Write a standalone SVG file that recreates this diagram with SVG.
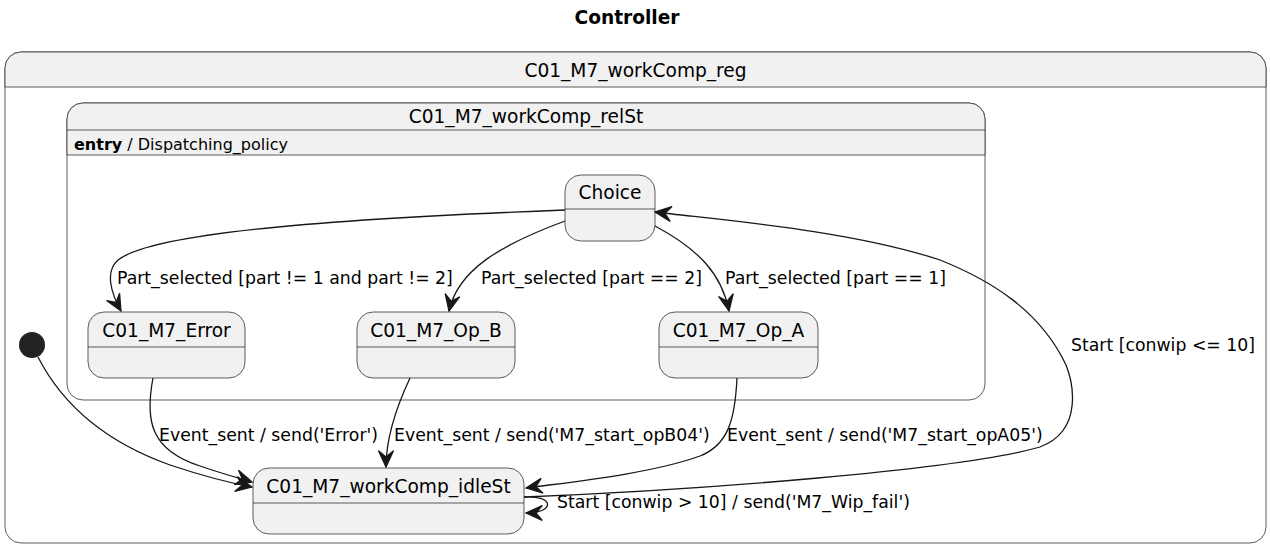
<svg xmlns="http://www.w3.org/2000/svg" width="1270" height="546" viewBox="0 0 1270 546">
<defs>
<style>
.box{fill:#F1F1F1;stroke:#181818;stroke-width:0.7}
.cbox{fill:#FFFFFF;stroke:#181818;stroke-width:0.7}
.div{stroke:#181818;stroke-width:0.7;fill:none}
.nm{font-family:"DejaVu Sans",sans-serif;font-size:18.6px;fill:#000;text-anchor:middle}
.lb{font-family:"DejaVu Sans",sans-serif;font-size:17.3px;fill:#000}
.en{font-family:"DejaVu Sans",sans-serif;font-size:16px;fill:#000}
.ttl{font-family:"DejaVu Sans",sans-serif;font-size:18.6px;font-weight:bold;fill:#000;text-anchor:middle}
.e{fill:none;stroke:#181818;stroke-width:1.3}
</style>
<marker id="ah" markerUnits="userSpaceOnUse" markerWidth="20" markerHeight="20" refX="0" refY="0" viewBox="-14 -8 16 16" orient="auto" overflow="visible">
<path d="M0,0 L-13,-6 L-8,0 L-13,6 Z" fill="#181818" stroke="#181818" stroke-width="1"/>
</marker>
</defs>
<rect width="1270" height="546" fill="#FFFFFF"/>
<text class="ttl" x="627" y="24">Controller</text>

<g id="C01_M7_workComp_reg">
<rect class="cbox" x="5" y="52" width="1261" height="491" rx="16"/>
<path d="M21,52 H1250 A16,16 0 0 1 1266,68 V87 H5 V68 A16,16 0 0 1 21,52 Z" fill="#F1F1F1" stroke="#181818" stroke-width="0.7"/>
<text class="nm" x="635.5" y="77">C01_M7_workComp_reg</text>
</g>

<g id="C01_M7_workComp_relSt">
<rect class="cbox" x="67" y="103" width="918" height="297" rx="16"/>
<path d="M83,103 H969 A16,16 0 0 1 985,119 V155 H67 V119 A16,16 0 0 1 83,103 Z" fill="#F1F1F1" stroke="#181818" stroke-width="0.7"/>
<line class="div" x1="67" y1="130" x2="985" y2="130"/>
<text class="nm" x="526" y="123">C01_M7_workComp_relSt</text>
<text class="en" x="74" y="150"><tspan font-weight="bold">entry</tspan> / Dispatching_policy</text>
</g>

<g id="initial">
<circle cx="32" cy="345" r="13" fill="#222222"/>
</g>

<g id="Choice">
<rect class="box" x="565" y="175" width="90" height="66" rx="16"/>
<line class="div" x1="565" y1="209" x2="655" y2="209"/>
<text class="nm" x="610" y="199">Choice</text>
</g>

<g id="C01_M7_Error">
<rect class="box" x="88" y="312" width="157" height="66" rx="16"/>
<line class="div" x1="88" y1="347" x2="245" y2="347"/>
<text class="nm" x="166.5" y="337">C01_M7_Error</text>
</g>

<g id="C01_M7_Op_B">
<rect class="box" x="357" y="312" width="158" height="66" rx="16"/>
<line class="div" x1="357" y1="347" x2="515" y2="347"/>
<text class="nm" x="436" y="337">C01_M7_Op_B</text>
</g>

<g id="C01_M7_Op_A">
<rect class="box" x="659" y="312" width="159" height="66" rx="16"/>
<line class="div" x1="659" y1="347" x2="818" y2="347"/>
<text class="nm" x="738.5" y="337">C01_M7_Op_A</text>
</g>

<g id="C01_M7_workComp_idleSt">
<rect class="box" x="253" y="468" width="271" height="66" rx="16"/>
<line class="div" x1="253" y1="503" x2="524" y2="503"/>
<text class="nm" x="388.5" y="493">C01_M7_workComp_idleSt</text>
</g>

<g id="connectors">
<path class="e" marker-end="url(#ah)" d="M565,210 C300,220 150,235 118,260 C104,272 112,295 121,311"/>
<path class="e" marker-end="url(#ah)" d="M565,221 C500,245 458,270 449,311"/>
<path class="e" marker-end="url(#ah)" d="M655,226 C700,250 722,275 729,311"/>
<path class="e" marker-end="url(#ah)" d="M524,497 C700,490 960,470 1040,447 C1085,430 1072,380 1066,365 C1040,310 990,280 940,260 C850,230 720,220 655,212"/>
<path class="e" marker-end="url(#ah)" d="M737,378 C735,420 728,445 700,456 C650,474 570,482 526,488"/>
<path class="e" marker-end="url(#ah)" d="M410,378 C395,410 386,440 386,467"/>
<path class="e" marker-end="url(#ah)" d="M153,378 C145,420 150,450 200,466 C220,473 235,477 252,482"/>
<path class="e" marker-end="url(#ah)" d="M38,357 C60,400 100,440 170,465 C200,475 225,482 252,487"/>
<path class="e" marker-end="url(#ah)" d="M524,497 C555,495 555,513 526,513"/>
</g>

<g id="labels">
<text class="lb" x="117" y="284">Part_selected [part != 1 and part != 2]</text>
<text class="lb" x="481" y="284">Part_selected [part == 2]</text>
<text class="lb" x="725" y="284">Part_selected [part == 1]</text>
<text class="lb" x="1071" y="351">Start [conwip &lt;= 10]</text>
<text class="lb" x="159" y="441">Event_sent / send('Error')</text>
<text class="lb" x="394" y="441">Event_sent / send('M7_start_opB04')</text>
<text class="lb" x="727" y="441">Event_sent / send('M7_start_opA05')</text>
<text class="lb" x="557" y="508">Start [conwip &gt; 10] / send('M7_Wip_fail')</text>
</g>
</svg>
